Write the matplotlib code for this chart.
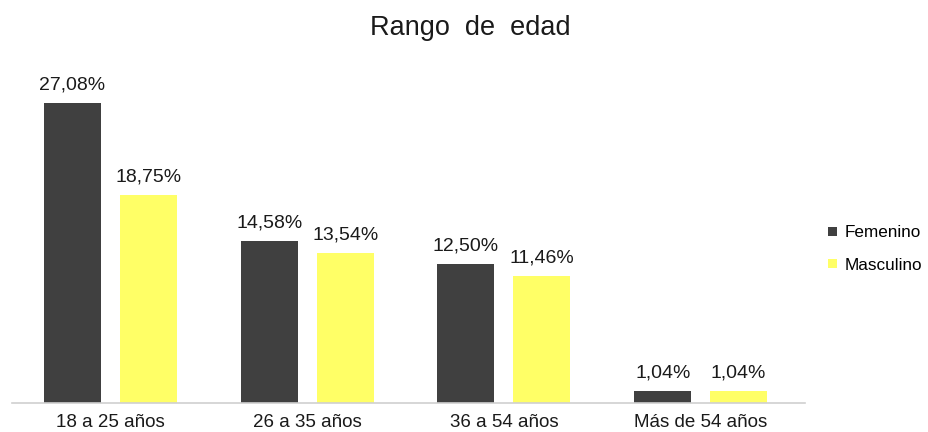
import matplotlib.pyplot as plt
import numpy as np

plt.rcParams['font.family'] = ['Liberation Sans', 'DejaVu Sans']

categorias = ['18 a 25 años', '26 a 35 años', '36 a 54 años', 'Más de 54 años']
femenino = [27.08, 14.58, 12.50, 1.04]
masculino = [18.75, 13.54, 11.46, 1.04]

fig = plt.figure(figsize=(9.29, 4.32), dpi=100)
ax = fig.add_axes([12/929, 1 - 403/432, (805 - 12)/929, (403 - 70.5)/432])

x = np.arange(len(categorias))
w = 0.29
off = 0.193
b1 = ax.bar(x - off, femenino, w, color='#404040', label='Femenino')
b2 = ax.bar(x + off, masculino, w, color='#ffff66', label='Masculino')

for bars in (b1, b2):
    for r in bars:
        v = r.get_height()
        ax.annotate(('%.2f' % v).replace('.', ',') + '%',
                    (r.get_x() + r.get_width() / 2, v),
                    xytext=(0, 7), textcoords='offset points',
                    ha='center', va='bottom', fontsize=14, color='#1a1a1a')

ax.set_xlim(-0.5, 3.53)
ax.set_ylim(0, 30)
ax.set_xticks(x)
ax.set_xticklabels(categorias, fontsize=13.5, color='#1a1a1a')
ax.tick_params(axis='x', length=0, pad=8)
ax.set_yticks([])
for s in ['top', 'right', 'left']:
    ax.spines[s].set_visible(False)
ax.spines['bottom'].set_color('#d0d0d0')
ax.spines['bottom'].set_linewidth(1.2)

fig.text(470/929, 1 - 28/432, 'Rango  de  edad', ha='center', va='center',
         fontsize=19.5, color='#1a1a1a')

fig.legend(handles=[b1, b2], loc='center left', bbox_to_anchor=(828/929, 1 - 249/432),
           frameon=False, fontsize=12.3, handlelength=0.5, handleheight=0.5,
           handletextpad=0.5, labelspacing=1.0, borderpad=0, borderaxespad=0)

fig.savefig('out.png', dpi=100)
